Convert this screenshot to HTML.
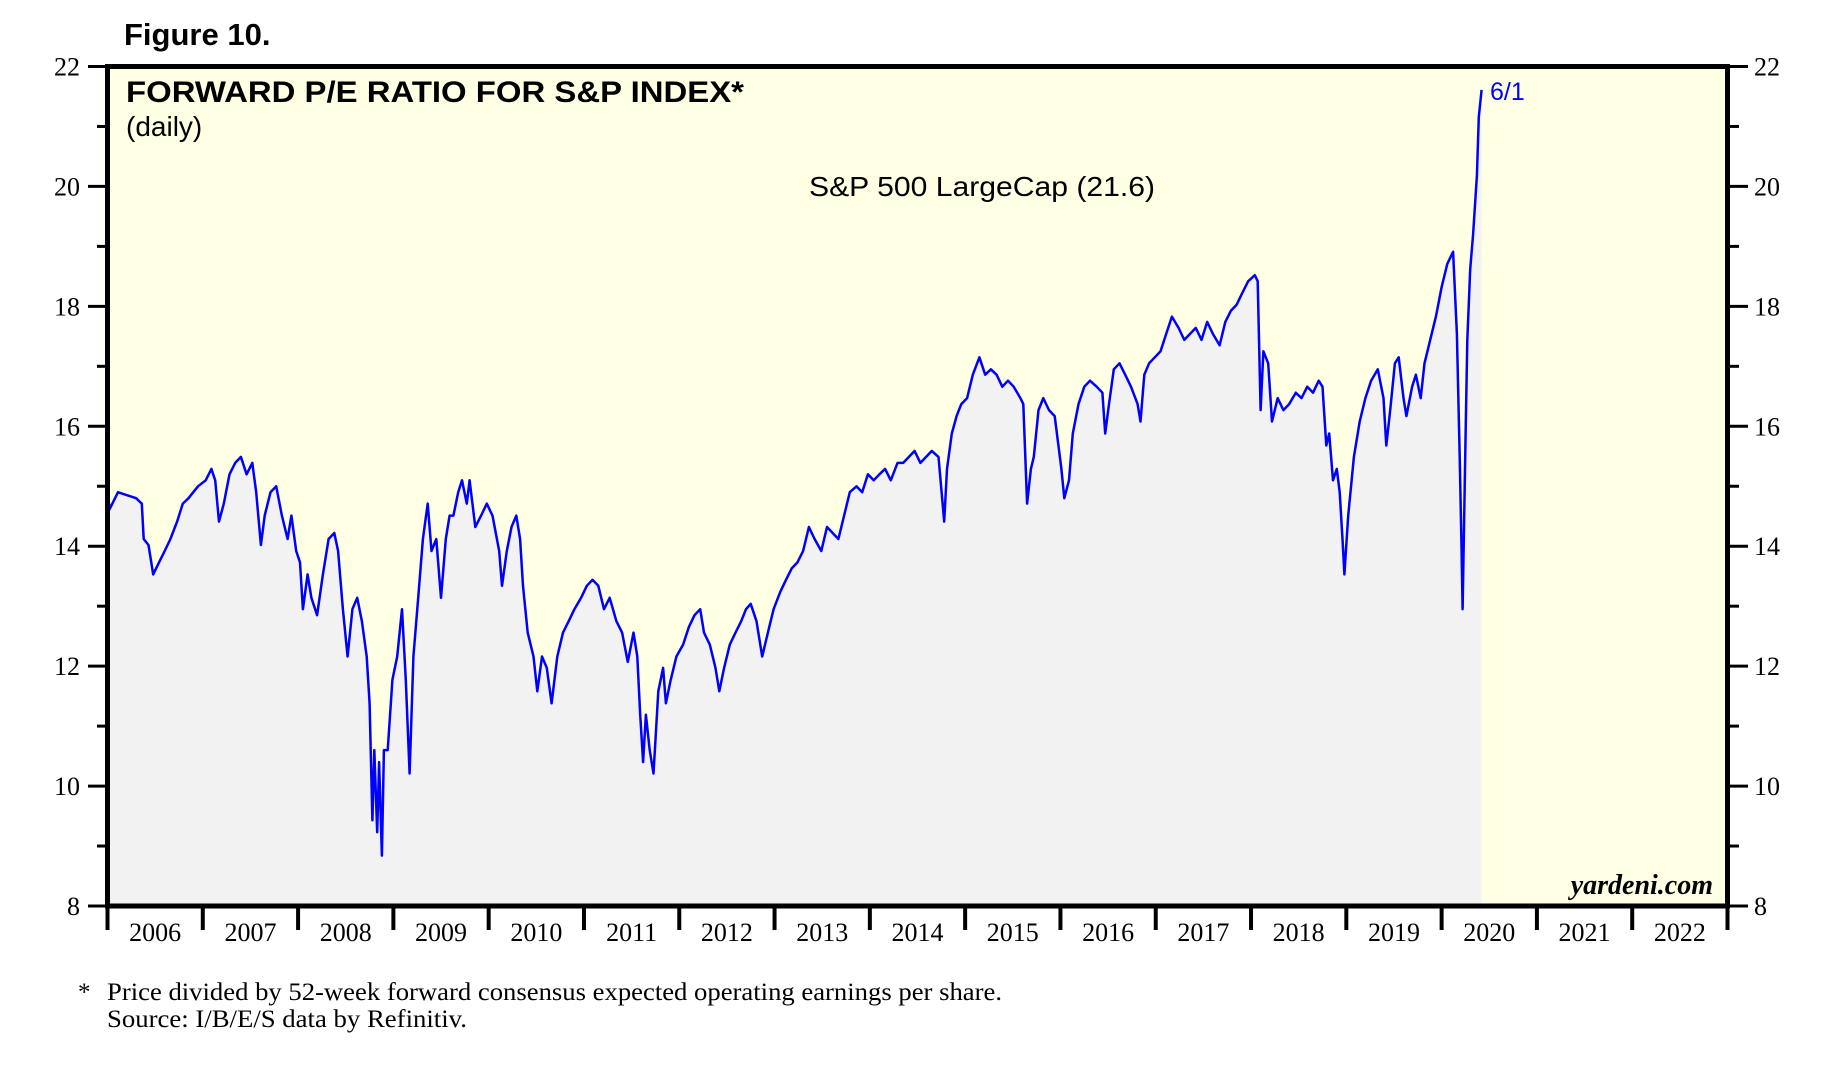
<!DOCTYPE html>
<html><head><meta charset="utf-8">
<style>
html,body{margin:0;padding:0;background:#fff;}
svg{display:block;}
text{font-family:"Liberation Serif",serif;}
.sans{font-family:"Liberation Sans",sans-serif;}
</style></head>
<body>
<svg id="chart" width="1837" height="1086" viewBox="0 0 1837 1086" xmlns="http://www.w3.org/2000/svg">
  <text class="sans" x="124" y="45" font-size="31" font-weight="bold">Figure 10.</text>
  <rect x="107.5" y="66.5" width="1620" height="839.5" fill="#FFFFE3"/>
  <g id="series"></g>
  <g id="axes"></g>
  <rect x="107.5" y="66.5" width="1620" height="839.5" fill="none" stroke="#000" stroke-width="5"/>
  <text class="sans" x="126" y="102" font-size="30" font-weight="bold" textLength="618" lengthAdjust="spacingAndGlyphs">FORWARD P/E RATIO FOR S&amp;P INDEX*</text>
  <text class="sans" x="126" y="136" font-size="28">(daily)</text>
  <text class="sans" x="982" y="196" font-size="28" text-anchor="middle" textLength="346" lengthAdjust="spacingAndGlyphs">S&amp;P 500 LargeCap (21.6)</text>
  <text class="sans" x="1490" y="100" font-size="25" fill="#0000FF">6/1</text>
  <text x="1713" y="894" font-size="28" font-weight="bold" font-style="italic" text-anchor="end">yardeni.com</text>
  <text x="78" y="1000" font-size="25">*</text>
  <text x="107" y="1000" font-size="25" textLength="895" lengthAdjust="spacingAndGlyphs">Price divided by 52-week forward consensus expected operating earnings per share.</text>
  <text x="107" y="1027" font-size="25" textLength="360" lengthAdjust="spacingAndGlyphs">Source: I/B/E/S data by Refinitiv.</text>
</svg>
<script>
const dates = [2006.00,2006.02,2006.11,2006.30,2006.36,2006.38,2006.43,2006.48,2006.54,2006.60,2006.66,2006.73,2006.79,2006.85,2006.95,2007.03,2007.09,2007.13,2007.17,2007.22,2007.28,2007.34,2007.40,2007.46,2007.52,2007.56,2007.61,2007.65,2007.71,2007.77,2007.83,2007.89,2007.93,2007.98,2008.02,2008.05,2008.10,2008.14,2008.20,2008.26,2008.32,2008.38,2008.42,2008.47,2008.52,2008.57,2008.62,2008.67,2008.72,2008.75,2008.78,2008.80,2008.83,2008.85,2008.88,2008.90,2008.94,2008.99,2009.04,2009.09,2009.13,2009.17,2009.21,2009.26,2009.31,2009.36,2009.40,2009.45,2009.50,2009.55,2009.59,2009.63,2009.68,2009.72,2009.77,2009.80,2009.86,2009.92,2009.98,2010.04,2010.11,2010.14,2010.19,2010.24,2010.29,2010.33,2010.36,2010.41,2010.47,2010.51,2010.56,2010.61,2010.66,2010.72,2010.78,2010.84,2010.90,2010.97,2011.03,2011.09,2011.15,2011.21,2011.27,2011.34,2011.40,2011.46,2011.52,2011.56,2011.59,2011.62,2011.65,2011.69,2011.73,2011.78,2011.83,2011.86,2011.91,2011.97,2012.04,2012.10,2012.16,2012.22,2012.26,2012.32,2012.38,2012.42,2012.47,2012.53,2012.59,2012.65,2012.70,2012.75,2012.81,2012.87,2012.93,2012.99,2013.06,2013.12,2013.18,2013.24,2013.30,2013.36,2013.42,2013.49,2013.55,2013.61,2013.67,2013.73,2013.79,2013.86,2013.92,2013.98,2014.04,2014.10,2014.16,2014.22,2014.29,2014.35,2014.41,2014.47,2014.53,2014.59,2014.65,2014.72,2014.78,2014.81,2014.86,2014.91,2014.96,2015.02,2015.08,2015.15,2015.21,2015.27,2015.33,2015.39,2015.45,2015.51,2015.58,2015.61,2015.65,2015.69,2015.72,2015.77,2015.82,2015.88,2015.94,2016.01,2016.04,2016.09,2016.13,2016.19,2016.25,2016.31,2016.38,2016.44,2016.47,2016.51,2016.56,2016.62,2016.68,2016.74,2016.81,2016.84,2016.88,2016.93,2016.99,2017.05,2017.11,2017.17,2017.24,2017.30,2017.36,2017.42,2017.48,2017.54,2017.60,2017.67,2017.73,2017.79,2017.85,2017.91,2017.97,2018.04,2018.07,2018.10,2018.13,2018.18,2018.22,2018.28,2018.34,2018.40,2018.47,2018.53,2018.59,2018.65,2018.71,2018.75,2018.79,2018.82,2018.86,2018.90,2018.93,2018.96,2018.98,2019.02,2019.08,2019.14,2019.20,2019.26,2019.33,2019.39,2019.42,2019.46,2019.51,2019.55,2019.60,2019.63,2019.69,2019.73,2019.78,2019.82,2019.88,2019.94,2020.00,2020.06,2020.12,2020.16,2020.19,2020.21,2020.22,2020.25,2020.27,2020.30,2020.33,2020.37,2020.39,2020.42];
const pe = [15.00,14.61,14.90,14.80,14.71,14.12,14.02,13.53,13.73,13.92,14.12,14.41,14.71,14.80,15.00,15.10,15.29,15.10,14.41,14.71,15.20,15.39,15.49,15.20,15.39,14.90,14.02,14.51,14.90,15.00,14.51,14.12,14.51,13.92,13.73,12.95,13.53,13.14,12.85,13.53,14.12,14.22,13.92,12.95,12.16,12.95,13.14,12.75,12.16,11.38,9.43,10.60,9.23,10.40,8.84,10.60,10.60,11.77,12.16,12.95,11.77,10.21,12.16,13.14,14.12,14.71,13.92,14.12,13.14,14.12,14.51,14.51,14.90,15.10,14.71,15.10,14.32,14.51,14.71,14.51,13.92,13.34,13.92,14.32,14.51,14.12,13.34,12.56,12.16,11.58,12.16,11.97,11.38,12.16,12.56,12.75,12.95,13.14,13.34,13.44,13.34,12.95,13.14,12.75,12.56,12.07,12.56,12.16,11.19,10.40,11.19,10.60,10.21,11.58,11.97,11.38,11.77,12.16,12.36,12.65,12.85,12.95,12.56,12.36,11.97,11.58,11.97,12.36,12.56,12.75,12.95,13.04,12.75,12.16,12.56,12.95,13.24,13.44,13.63,13.73,13.92,14.32,14.12,13.92,14.32,14.22,14.12,14.51,14.90,15.00,14.90,15.20,15.10,15.20,15.29,15.10,15.39,15.39,15.49,15.59,15.39,15.49,15.59,15.49,14.41,15.29,15.88,16.17,16.37,16.47,16.86,17.15,16.86,16.95,16.86,16.66,16.76,16.66,16.47,16.37,14.71,15.29,15.49,16.27,16.47,16.27,16.17,15.29,14.80,15.10,15.88,16.37,16.66,16.76,16.66,16.56,15.88,16.37,16.95,17.05,16.86,16.66,16.37,16.08,16.86,17.05,17.15,17.25,17.54,17.83,17.64,17.44,17.54,17.64,17.44,17.74,17.54,17.35,17.74,17.93,18.03,18.23,18.42,18.52,18.42,16.27,17.25,17.05,16.08,16.47,16.27,16.37,16.56,16.47,16.66,16.56,16.76,16.66,15.68,15.88,15.10,15.29,14.90,14.12,13.53,14.51,15.49,16.08,16.47,16.76,16.95,16.47,15.68,16.27,17.05,17.15,16.47,16.17,16.66,16.86,16.47,17.05,17.44,17.83,18.32,18.71,18.91,17.54,15.49,13.92,12.95,15.68,17.44,18.62,19.20,20.18,21.16,21.61];
const yTicks = [8,10,12,14,16,18,20,22];
const yMinor = [9,11,13,15,17,19,21];
const years = [2006,2007,2008,2009,2010,2011,2012,2013,2014,2015,2016,2017,2018,2019,2020,2021,2022];

const NS = "http://www.w3.org/2000/svg";
const X0 = 107.5, X1 = 1727.5, Y0 = 906, Y1 = 66.5;
const xs = yr => X0 + (yr - 2006) / 17 * (X1 - X0);
const ys = v => Y0 - (v - 8) / 14 * (Y0 - Y1);
function mk(tag, attrs, parent) {
  const el = document.createElementNS(NS, tag);
  for (const k in attrs) el.setAttribute(k, attrs[k]);
  parent.appendChild(el);
  return el;
}
const series = document.getElementById('series');
const axes = document.getElementById('axes');

let pts = dates.map((d, i) => xs(d).toFixed(1) + ',' + ys(pe[i]).toFixed(1));
const area = mk('polygon', {points: xs(dates[0]).toFixed(1) + ',' + Y0 + ' ' + pts.join(' ') + ' ' + xs(dates[dates.length-1]).toFixed(1) + ',' + Y0, fill: '#F2F2F2'}, series);


const line = mk('polyline', {points: pts.join(' '), fill: 'none', stroke: '#0000FF', 'stroke-width': 2.5, 'stroke-linejoin': 'round'}, series);



yTicks.forEach(v => {
  const y = ys(v);
  const tl = mk('line', {x1: 88, x2: X0, y1: y, y2: y, stroke: '#000', 'stroke-width': 3}, axes);
  
  
  const tr = mk('line', {x1: X1, x2: 1748, y1: y, y2: y, stroke: '#000', 'stroke-width': 3}, axes);
  
  
  const ll = mk('text', {x: 80, y: y + 9, 'font-size': 26, 'text-anchor': 'end'}, axes);
  ll.textContent = v;
  
  
  const rl = mk('text', {x: 1754, y: y + 9, 'font-size': 26}, axes);
  rl.textContent = v;
  
  
});
yMinor.forEach(v => {
  const y = ys(v);
  const tl = mk('line', {x1: 97, x2: X0, y1: y, y2: y, stroke: '#000', 'stroke-width': 3}, axes);
  
  
  const tr = mk('line', {x1: X1, x2: 1739, y1: y, y2: y, stroke: '#000', 'stroke-width': 3}, axes);
  
  
});
years.forEach(yr => {
  const x = xs(yr);
  const t = mk('line', {x1: x, x2: x, y1: Y0, y2: 930, stroke: '#000', 'stroke-width': 4}, axes);
  
  
  const lb = mk('text', {x: xs(yr + 0.5), y: 941, 'font-size': 26, 'text-anchor': 'middle'}, axes);
  lb.textContent = yr;
  
  
});
const te = mk('line', {x1: X1, x2: X1, y1: Y0, y2: 930, stroke: '#000', 'stroke-width': 4}, axes);


</script>
</body></html>
